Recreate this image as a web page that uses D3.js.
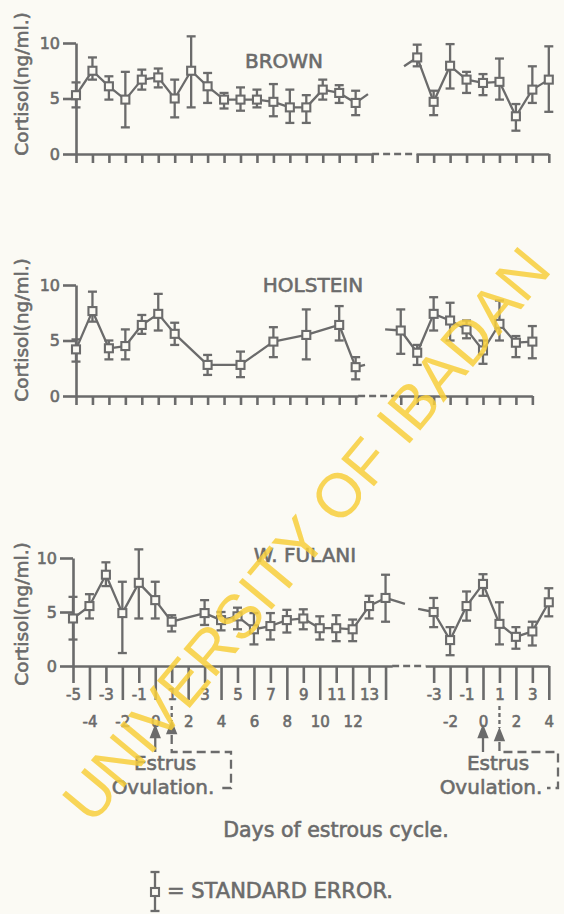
<!DOCTYPE html>
<html>
<head>
<meta charset="utf-8">
<script src="https://cdn.jsdelivr.net/npm/d3@7"></script>
<style>
    body { margin: 0; background: #fbfaf4; }
    svg { display: block; }
    svg text { stroke: #6b6b6b; stroke-width: 0.6px; }
    svg text.wm { stroke: none; }
</style>
</head>
<body>
<script>
// cortisol (ng/ml) per day of the estrous cycle
// each panel: left cycle + right (next cycle) segment, mean with SE bar ends

var brownLeftDays = d3.range(-5, 13);
var brownLeftMean = [5.3, 7.5, 6.1, 4.9, 6.7, 6.9, 5.0, 7.5, 6.1, 4.9, 4.9, 4.9, 4.7, 4.2, 4.2, 5.8, 5.5, 4.6];
var brownLeftHi   = [6.45, 8.7, 7.0, 7.4, 7.6, 7.7, 6.7, 10.6, 7.3, 5.5, 6.0, 5.8, 6.3, 5.8, 5.3, 6.7, 6.2, 5.7];
var brownLeftLo   = [4.2, 6.7, 4.9, 2.4, 5.8, 6.0, 3.3, 4.2, 4.6, 4.1, 3.9, 4.2, 3.4, 2.8, 2.8, 4.9, 4.6, 3.5];
var brownRightDays = d3.range(-4, 5);
var brownRightMean = [8.7, 4.7, 7.95, 6.7, 6.4, 6.5, 3.4, 5.8, 6.7];
var brownRightHi   = [9.85, 5.7, 9.9, 7.4, 7.2, 8.6, 4.5, 7.9, 9.7];
var brownRightLo   = [7.9, 3.5, 5.9, 5.5, 5.3, 4.9, 2.1, 4.6, 3.8];
var brownTail = [12.75, 5.4];   // line running off the left segment
var brownHead = [-4.8, 7.9];    // line running into the right segment

var holsteinLeftDays = [-5, -4, -3, -2, -1, 0, 1, 3, 5, 7, 9, 11, 12];
var holsteinLeftMean = [4.2, 7.65, 4.3, 4.5, 6.4, 7.4, 5.6, 2.8, 2.8, 4.9, 5.5, 6.4, 2.6];
var holsteinLeftHi   = [5.1, 9.4, 5.0, 6.0, 7.3, 9.2, 6.6, 3.7, 4.0, 6.2, 7.8, 8.1, 3.5];
var holsteinLeftLo   = [3.1, 6.7, 3.3, 3.3, 5.6, 5.9, 4.6, 1.9, 1.7, 3.5, 3.3, 5.0, 1.5];
var holsteinRightDays = d3.range(-5, 4);
var holsteinRightMean = [5.9, 3.9, 7.4, 6.8, 6.0, 4.1, 6.5, 4.8, 4.9];
var holsteinRightHi   = [7.8, 4.6, 8.9, 8.4, 6.8, 5.0, 8.6, 5.4, 6.3];
var holsteinRightLo   = [3.8, 2.8, 5.9, 5.0, 5.2, 2.9, 5.0, 3.5, 3.4];
var holsteinTail = [12.57, 2.8];
var holsteinHead = [-5.95, 6.0];

var fulaniLeftDays = [-5, -4, -3, -2, -1, 0, 1, 3, 4, 5, 6, 7, 8, 9, 10, 11, 12, 13, 14];
var fulaniLeftMean = [4.4, 5.55, 8.45, 4.9, 7.7, 6.1, 4.1, 4.9, 4.25, 4.6, 3.4, 3.7, 4.25, 4.4, 3.5, 3.5, 3.4, 5.55, 6.3];
var fulaniLeftHi   = [6.4, 6.65, 9.6, 7.8, 10.8, 7.8, 4.7, 6.1, 5.0, 5.4, 4.9, 4.9, 5.2, 5.25, 4.6, 4.7, 4.3, 6.5, 8.45];
var fulaniLeftLo   = [2.45, 4.4, 7.4, 1.2, 4.4, 4.4, 3.2, 3.8, 3.3, 3.4, 2.0, 2.45, 3.1, 3.4, 2.45, 2.3, 2.3, 4.4, 4.1];
var fulaniRightDays = d3.range(-3, 5);
var fulaniRightMean = [5.0, 2.4, 5.55, 7.6, 3.9, 2.7, 3.2, 5.9];
var fulaniRightHi   = [6.3, 3.6, 6.9, 8.5, 5.9, 3.6, 4.1, 7.2];
var fulaniRightLo   = [3.6, 1.0, 4.2, 6.5, 2.0, 1.6, 1.9, 4.6];
var fulaniTail = [15.18, 5.75];
var fulaniHead = [-3.94, 5.3];

var yTicks = [0, 5, 10];

var INK = "#6b6b6b", BG = "#fbfaf4", FONT = "'DejaVu Sans', sans-serif";
var dayW = 16.45, zeroRight = 483;

function zip(days, mean, hi, lo){
    return days.map(function(d, i){ return {day: d, mean: mean[i], hi: hi[i], lo: lo[i]}; });
}

var svg = d3.select("body").append("svg")
    .attr("width", 564)
    .attr("height", 914);

svg.append("rect").attr("width", 564).attr("height", 914).attr("fill", BG);

function drawSeries(g, pts, x, y, stub, stubFirst){
    var linePts = pts.map(function(d){ return [d.day, d.mean]; });
    if(stubFirst) linePts.unshift(stub); else linePts.push(stub);

    g.append("path")
        .datum(linePts)
        .attr("d", d3.line().x(function(d){ return x(d[0]); }).y(function(d){ return y(d[1]); }))
        .attr("fill", "none")
        .attr("stroke", INK)
        .attr("stroke-width", 2.3)
        .attr("stroke-linejoin", "round");

    var eb = g.selectAll(null).data(pts).enter().append("g");
    eb.append("line")
        .attr("x1", function(d){ return x(d.day); })
        .attr("x2", function(d){ return x(d.day); })
        .attr("y1", function(d){ return y(d.hi); })
        .attr("y2", function(d){ return y(d.lo); });
    eb.append("line")
        .attr("x1", function(d){ return x(d.day) - 4.5; })
        .attr("x2", function(d){ return x(d.day) + 4.5; })
        .attr("y1", function(d){ return y(d.hi); })
        .attr("y2", function(d){ return y(d.hi); });
    eb.append("line")
        .attr("x1", function(d){ return x(d.day) - 4.5; })
        .attr("x2", function(d){ return x(d.day) + 4.5; })
        .attr("y1", function(d){ return y(d.lo); })
        .attr("y2", function(d){ return y(d.lo); });
    eb.selectAll("line").attr("stroke", INK).attr("stroke-width", 2.3);

    g.selectAll(null).data(pts).enter().append("rect")
        .attr("x", function(d){ return x(d.day) - 4; })
        .attr("y", function(d){ return y(d.mean) - 4; })
        .attr("width", 8)
        .attr("height", 8)
        .attr("fill", BG)
        .attr("stroke", INK)
        .attr("stroke-width", 2.1);
}

function styleAxis(a){
    a.select(".domain").attr("stroke", INK).attr("stroke-width", 2.6);
    a.selectAll(".tick line").attr("stroke", INK).attr("stroke-width", 2.6);
    a.selectAll(".tick text").attr("fill", INK).style("font-family", FONT).style("font-size", "15px");
}

function drawPanel(p){
    var g = svg.append("g");
    var y = d3.scaleLinear().domain([0, 10]).range([p.y0, p.y0 - p.h]);
    var xL = d3.scaleLinear().domain([-5, p.leftEnd])
        .range([p.x0, p.x0 + (p.leftEnd + 5) * dayW]);
    var xR = d3.scaleLinear().domain([p.rightStart, p.rightEnd])
        .range([zeroRight + p.rightStart * dayW, zeroRight + p.rightEnd * dayW]);

    // y axis
    var ya = g.append("g")
        .attr("transform", "translate(" + p.x0 + ",0)")
        .call(d3.axisLeft(y).tickValues(yTicks).tickSize(13).tickSizeOuter(0).tickPadding(3));
    styleAxis(ya);
    ya.selectAll(".tick text").style("font-size", "16px");

    // x axes (left cycle, right cycle) joined by a dashed break
    var fmt = function(d){ return p.long && d !== 14 ? String(d) : ""; };
    var xa1 = g.append("g").attr("transform", "translate(0," + p.y0 + ")")
        .call(d3.axisBottom(xL).tickValues(p.leftTicks).tickSize(9).tickSizeOuter(0).tickFormat(fmt));
    var xa2 = g.append("g").attr("transform", "translate(0," + p.y0 + ")")
        .call(d3.axisBottom(xR).tickValues(p.rightTicks).tickSize(9).tickSizeOuter(0).tickFormat(fmt));
    [xa1, xa2].forEach(function(a){
        styleAxis(a);
        if(p.long){
            a.selectAll(".tick line").attr("y2", function(d){ return Math.abs(d) % 2 === 1 ? 17 : 34; });
            a.selectAll(".tick text").attr("y", function(d){ return Math.abs(d) % 2 === 1 ? 23 : 50; });
        }
    });
    g.append("line")
        .attr("x1", xL(p.leftEnd)).attr("x2", xR(p.rightStart))
        .attr("y1", p.y0).attr("y2", p.y0)
        .attr("stroke", INK).attr("stroke-width", 2.6)
        .attr("stroke-dasharray", "7,4");

    drawSeries(g, p.left, xL, y, p.tail, false);
    drawSeries(g, p.right, xR, y, p.head, true);

    g.append("text")
        .attr("x", p.titleX).attr("y", p.titleY)
        .attr("text-anchor", "middle")
        .attr("fill", INK)
        .style("font-family", FONT).style("font-size", "20px")
        .text(p.name);

    g.append("text")
        .attr("transform", "translate(28," + p.labelY + ") rotate(-90)")
        .attr("text-anchor", "middle")
        .attr("fill", INK)
        .style("font-family", FONT).style("font-size", "18.5px")
        .text("Cortisol(ng/ml.)");

    return {xL: xL, xR: xR, y0: p.y0};
}

var panels = [
    {name: "BROWN", y0: 154, h: 111, x0: 76, leftEnd: 13, rightStart: -4.05, rightEnd: 4,
     leftTicks: d3.range(-5, 14), rightTicks: d3.range(-4, 5), long: false,
     titleX: 284, titleY: 68, labelY: 84,
     left: zip(brownLeftDays, brownLeftMean, brownLeftHi, brownLeftLo),
     right: zip(brownRightDays, brownRightMean, brownRightHi, brownRightLo),
     tail: brownTail, head: brownHead},
    {name: "HOLSTEIN", y0: 396, h: 111, x0: 76, leftEnd: 12.15, rightStart: -5.15, rightEnd: 3,
     leftTicks: d3.range(-5, 13), rightTicks: d3.range(-5, 4), long: false,
     titleX: 313, titleY: 292, labelY: 330,
     left: zip(holsteinLeftDays, holsteinLeftMean, holsteinLeftHi, holsteinLeftLo),
     right: zip(holsteinRightDays, holsteinRightMean, holsteinRightHi, holsteinRightLo),
     tail: holsteinTail, head: holsteinHead},
    {name: "W. FULANI", y0: 666, h: 108, x0: 73, leftEnd: 14.4, rightStart: -3.5, rightEnd: 4,
     leftTicks: d3.range(-5, 15), rightTicks: d3.range(-3, 5), long: true,
     titleX: 305, titleY: 562, labelY: 614,
     left: zip(fulaniLeftDays, fulaniLeftMean, fulaniLeftHi, fulaniLeftLo),
     right: zip(fulaniRightDays, fulaniRightMean, fulaniRightHi, fulaniRightLo),
     tail: fulaniTail, head: fulaniHead}
];

var scales = panels.map(drawPanel);
var fs = scales[2];

// estrus / ovulation markers under the W. Fulani axis
function arrowHead(g, x, tipY){
    g.append("path")
        .attr("d", "M" + x + "," + tipY + "L" + (x - 4) + "," + (tipY + 10) + "L" + (x + 4) + "," + (tipY + 10) + "Z")
        .attr("fill", INK);
}

function annotate(x, estrusX, ovX, bracketX, ovTip){
    var g = svg.append("g").attr("stroke", INK).attr("stroke-width", 2.3).attr("fill", "none");
    var y0 = fs.y0;
    var x0 = x(0), x1 = x(1);
    // estrus arrow
    g.append("line").attr("x1", x0).attr("x2", x0).attr("y1", y0 + 66).attr("y2", y0 + 86);
    arrowHead(g, x0, y0 + 61);
    // ovulation: dashed tick through label row, arrow, dashed bracket
    g.append("line").attr("x1", x1).attr("x2", x1).attr("y1", y0 + 40).attr("y2", y0 + ovTip - 2)
        .attr("stroke-dasharray", "4,3");
    arrowHead(g, x1, y0 + ovTip);
    g.append("path")
        .attr("d", "M" + x1 + "," + (y0 + ovTip + 12) + "V" + (y0 + 86) + "H" + bracketX +
                   "V" + (y0 + 122) + "H" + (bracketX - 11))
        .attr("stroke-dasharray", "9,5");

    var t = svg.append("g").attr("fill", INK).style("font-family", FONT).style("font-size", "20px")
        .attr("text-anchor", "middle");
    t.append("text").attr("x", estrusX).attr("y", y0 + 104).text("Estrus");
    t.append("text").attr("x", ovX).attr("y", y0 + 128).text("Ovulation.");
}

annotate(fs.xL, 165, 163, 231, 57);
annotate(fs.xR, 498, 491, 558, 64);

svg.append("text")
    .attr("x", 336).attr("y", 837)
    .attr("text-anchor", "middle")
    .attr("fill", INK)
    .style("font-family", FONT).style("font-size", "20.5px")
    .text("Days of estrous cycle.");

// legend
var lg = svg.append("g").attr("stroke", INK).attr("stroke-width", 2.3);
lg.append("line").attr("x1", 155).attr("x2", 155).attr("y1", 872).attr("y2", 911);
lg.append("line").attr("x1", 150.5).attr("x2", 159.5).attr("y1", 872).attr("y2", 872);
lg.append("line").attr("x1", 150.5).attr("x2", 159.5).attr("y1", 911).attr("y2", 911);
lg.append("rect").attr("x", 151).attr("y", 888).attr("width", 8).attr("height", 8).attr("fill", BG).attr("stroke-width", 2.1);
svg.append("text")
    .attr("x", 167).attr("y", 898)
    .attr("fill", INK)
    .style("font-family", FONT).style("font-size", "21px")
    .text("= STANDARD ERROR.");

// library watermark across the scan
svg.append("text")
    .attr("class", "wm")
    .attr("transform", "translate(92,826) rotate(-50.3)")
    .attr("fill", "#f8cf3c")
    .attr("opacity", 0.85)
    .style("font-family", "'Liberation Sans', Arial, sans-serif")
    .style("font-size", "62px")
    .text("UNIVERSITY OF IBADAN");
</script>
</body>
</html>
